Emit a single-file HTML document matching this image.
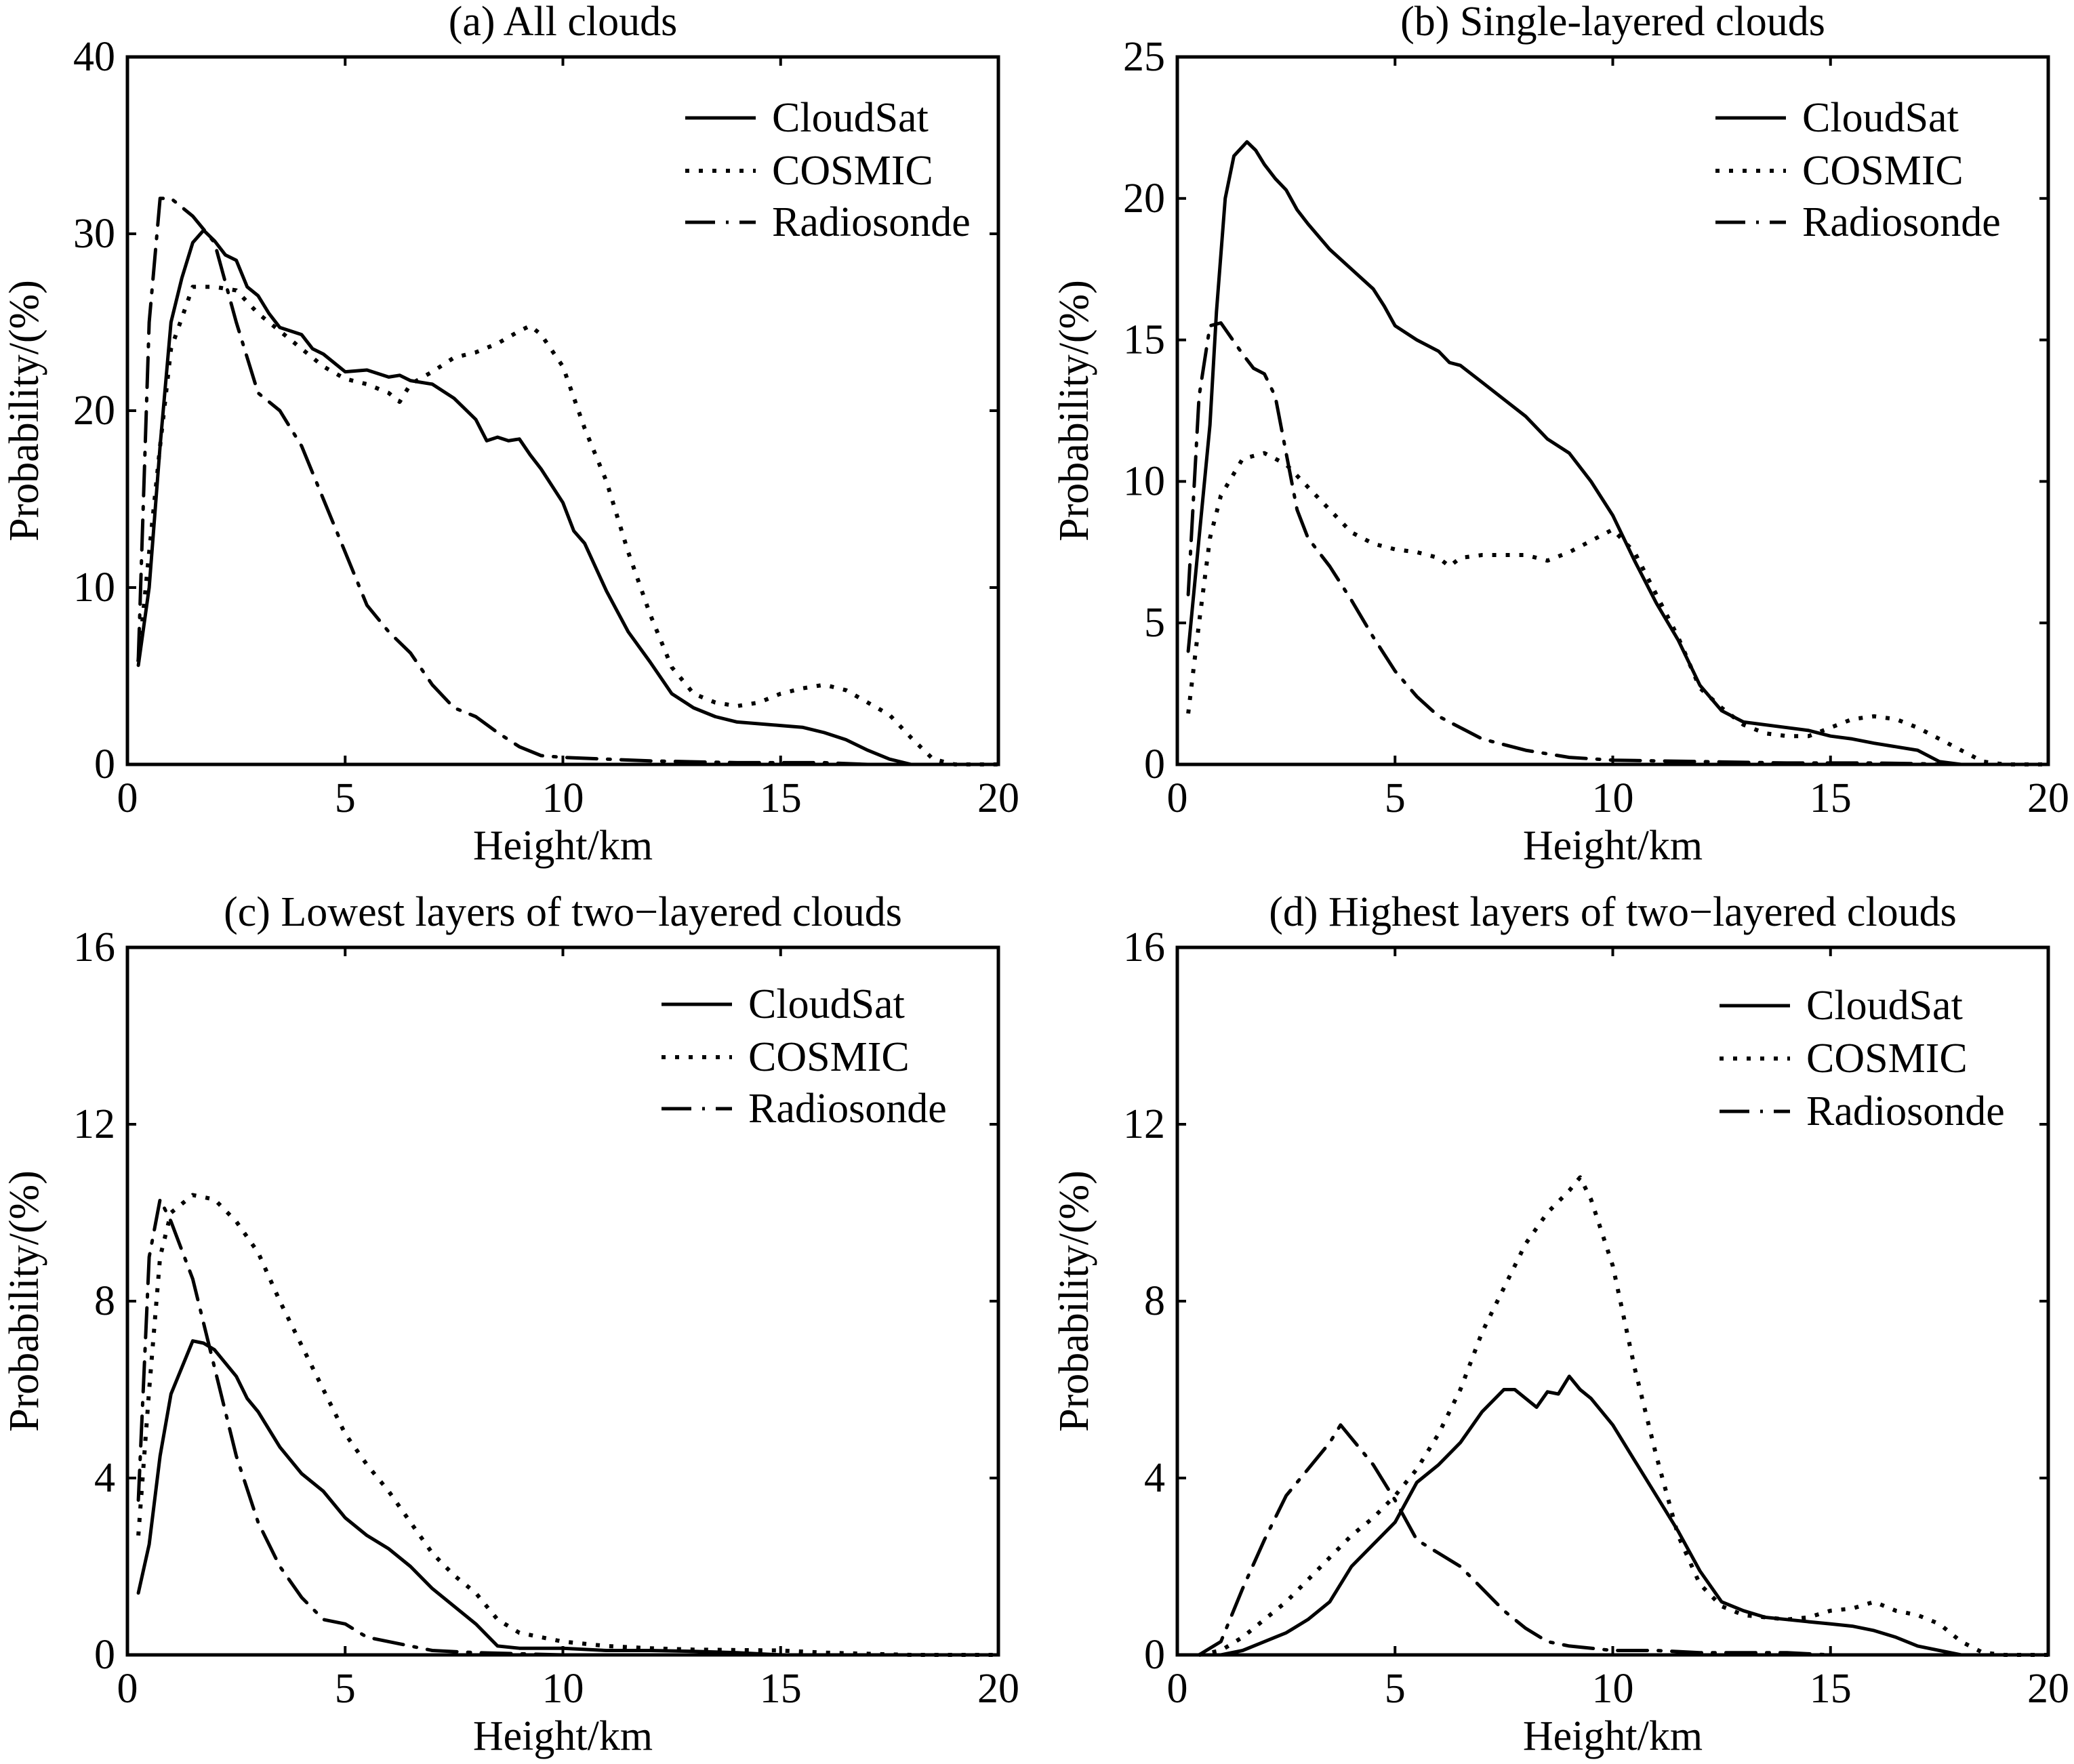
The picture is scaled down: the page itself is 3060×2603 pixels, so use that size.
<!DOCTYPE html>
<html><head><meta charset="utf-8"><style>
html,body{margin:0;padding:0;background:#fff}
svg{display:block}
text{font-family:"Liberation Serif",serif;fill:#000}
</style></head><body>
<svg id="fig" width="3060" height="2603" viewBox="0 0 3060 2603" xmlns="http://www.w3.org/2000/svg"></svg>
<script>
const xTicks=[0,5,10,15,20];
const titles=["(a) All clouds","(b) Single-layered clouds","(c) Lowest layers of two\u2212layered clouds","(d) Highest layers of two\u2212layered clouds"];
const yMax=[40,25,16,16];
const yTickSets=[[0,10,20,30,40],[0,5,10,15,20,25],[0,4,8,12,16],[0,4,8,12,16]];
const seriesNames=["CloudSat","COSMIC","Radiosonde"];
const aCloudSat=[[0.25,5.6],[0.5,10],[0.75,18],[1,25],[1.25,27.5],[1.5,29.5],[1.75,30.2],[2,29.6],[2.25,28.8],[2.5,28.5],[2.75,27],[3,26.5],[3.25,25.5],[3.5,24.7],[4,24.3],[4.25,23.5],[4.5,23.2],[5,22.2],[5.5,22.3],[6,21.9],[6.25,22],[6.5,21.7],[7,21.5],[7.5,20.7],[8,19.5],[8.25,18.3],[8.5,18.5],[8.75,18.3],[9,18.4],[9.25,17.5],[9.5,16.7],[10,14.8],[10.25,13.2],[10.5,12.5],[11,9.8],[11.5,7.5],[12,5.8],[12.5,4],[13,3.2],[13.5,2.7],[14,2.4],[15,2.2],[15.5,2.1],[16,1.8],[16.5,1.4],[17,0.8],[17.5,0.3],[18,0],[20,0]];
const aCOSMIC=[[0.25,5.8],[0.5,12],[0.75,18],[1,23.5],[1.5,27],[2,27],[2.5,26.8],[3,25.5],[3.5,24.5],[4,23.5],[4.5,22.5],[5,21.8],[5.5,21.5],[6,21],[6.25,20.5],[6.5,21.5],[7,22.2],[7.5,23],[8,23.3],[8.5,23.8],[9,24.5],[9.25,24.8],[9.5,24.3],[10,22.5],[10.5,19],[11,16],[11.5,12],[12,8.5],[12.5,5.5],[13,4],[13.5,3.5],[14,3.3],[14.5,3.5],[15,4],[15.5,4.3],[16,4.5],[16.5,4.2],[17,3.5],[17.5,2.8],[18,1.5],[18.5,0.3],[19,0],[20,0]];
const aRadiosonde=[[0.25,6],[0.5,25],[0.75,32],[1,32],[1.5,31],[2,29.5],[2.5,25],[3,21],[3.5,20],[4,18],[4.5,15],[5,12],[5.5,9],[6,7.5],[6.5,6.3],[7,4.5],[7.5,3.2],[8,2.7],[8.5,1.8],[9,1],[9.5,0.5],[10,0.4],[11,0.3],[12,0.2],[14,0.1],[16,0.1],[17,0],[20,0]];
const bCloudSat=[[0.25,4],[0.5,8],[0.75,12],[0.9,16],[1.1,20],[1.3,21.5],[1.6,22],[1.8,21.7],[2,21.2],[2.25,20.7],[2.5,20.3],[2.75,19.6],[3,19.1],[3.5,18.2],[4,17.5],[4.5,16.8],[4.75,16.2],[5,15.5],[5.5,15],[6,14.6],[6.25,14.2],[6.5,14.1],[7,13.5],[7.5,12.9],[8,12.3],[8.5,11.5],[9,11],[9.5,10],[10,8.8],[10.5,7.2],[11,5.7],[11.5,4.4],[12,2.8],[12.5,1.9],[13,1.5],[14,1.3],[14.5,1.2],[15,1],[15.5,0.9],[16,0.75],[17,0.5],[17.5,0.1],[18,0],[20,0]];
const bCOSMIC=[[0.25,1.8],[0.5,5],[0.75,8],[1,9.5],[1.5,10.8],[2,11],[2.5,10.6],[3,9.8],[3.5,9],[4,8.2],[4.5,7.8],[5,7.6],[5.5,7.5],[6,7.3],[6.25,7],[6.5,7.3],[7,7.4],[7.5,7.4],[8,7.4],[8.5,7.2],[9,7.5],[9.5,7.9],[10,8.3],[10.5,7.5],[11,6],[11.5,4.5],[12,2.7],[12.5,2],[13,1.4],[13.5,1.1],[14,1],[14.5,1],[15,1.3],[15.5,1.6],[16,1.7],[16.5,1.6],[17,1.3],[17.5,0.9],[18,0.5],[18.5,0.1],[19,0],[20,0]];
const bRadiosonde=[[0.25,6],[0.5,13],[0.75,15.5],[1,15.6],[1.5,14.5],[1.75,14],[2,13.8],[2.25,13],[2.5,11],[2.75,9],[3,8],[3.5,7],[4,5.8],[4.5,4.5],[5,3.3],[5.5,2.4],[6,1.7],[6.5,1.3],[7,0.9],[8,0.5],[9,0.25],[10,0.15],[12,0.1],[14,0.05],[16,0.05],[18,0],[20,0]];
const cCloudSat=[[0.25,1.4],[0.5,2.5],[0.75,4.5],[1,5.9],[1.5,7.1],[1.75,7.05],[2,6.9],[2.5,6.3],[2.75,5.8],[3,5.5],[3.5,4.7],[4,4.1],[4.5,3.7],[5,3.1],[5.5,2.7],[6,2.4],[6.5,2],[7,1.5],[7.5,1.1],[8,0.7],[8.5,0.2],[9,0.15],[10,0.15],[11,0.1],[12,0.1],[13,0.08],[14,0.05],[15,0],[20,0]];
const cCOSMIC=[[0.25,2.7],[0.5,6],[0.75,9],[1,10],[1.5,10.4],[2,10.3],[2.5,9.8],[3,9.1],[3.5,8],[4,7],[4.5,6],[5,5],[5.5,4.3],[6,3.7],[6.5,3],[7,2.3],[7.5,1.8],[8,1.4],[8.5,0.8],[9,0.5],[9.5,0.4],[10,0.3],[11,0.2],[12,0.15],[13,0.12],[15,0.1],[16,0.05],[18,0],[20,0]];
const cRadiosonde=[[0.25,3.5],[0.5,9],[0.75,10.3],[1,9.8],[1.5,8.5],[2,6.5],[2.5,4.5],[3,3],[3.5,2],[4,1.3],[4.5,0.8],[5,0.7],[5.5,0.4],[6,0.3],[7,0.1],[8,0.05],[10,0],[20,0]];
const dCloudSat=[[0.5,0],[1,0],[1.5,0.1],[2,0.3],[2.5,0.5],[3,0.8],[3.5,1.2],[4,2],[4.5,2.5],[5,3],[5.5,3.9],[6,4.3],[6.5,4.8],[7,5.5],[7.5,6],[7.75,6],[8,5.8],[8.25,5.6],[8.5,5.95],[8.75,5.9],[9,6.3],[9.25,6],[9.5,5.8],[10,5.2],[10.5,4.4],[11,3.6],[11.5,2.8],[12,1.9],[12.5,1.2],[13,1],[13.5,0.85],[14,0.8],[14.5,0.75],[15,0.7],[15.5,0.65],[16,0.55],[16.5,0.4],[17,0.2],[17.5,0.1],[18,0],[20,0]];
const dCOSMIC=[[0.5,0],[1,0.1],[1.5,0.4],[2,0.8],[2.5,1.2],[3,1.7],[3.5,2.2],[4,2.7],[4.5,3.1],[5,3.6],[5.5,4.2],[6,5],[6.5,6],[7,7.3],[7.5,8.3],[8,9.3],[8.5,10],[9,10.5],[9.25,10.8],[9.5,10.3],[10,8.8],[10.5,6.5],[11,4.5],[11.5,2.7],[12,1.6],[12.5,1.1],[13,0.9],[13.5,0.85],[14,0.8],[14.5,0.85],[15,1],[15.5,1.05],[16,1.2],[16.5,1],[17,0.9],[17.5,0.7],[18,0.3],[18.5,0.05],[19,0],[20,0]];
const dRadiosonde=[[0.5,0],[1,0.3],[1.5,1.5],[2,2.6],[2.5,3.6],[3,4.2],[3.5,4.8],[3.75,5.2],[4,4.9],[4.5,4.3],[5,3.5],[5.5,2.6],[6,2.3],[6.5,2],[7,1.5],[7.5,1],[8,0.6],[8.5,0.3],[9,0.2],[10,0.1],[11,0.1],[12,0.05],[14,0.05],[15,0],[20,0]];
const panelSeries=[[aCloudSat,aCOSMIC,aRadiosonde],[bCloudSat,bCOSMIC,bRadiosonde],[cCloudSat,cCOSMIC,cRadiosonde],[dCloudSat,dCOSMIC,dRadiosonde]];

const NS="http://www.w3.org/2000/svg";
const svg=document.getElementById('fig');
function mk(tag,attrs,parent){const e=document.createElementNS(NS,tag);for(const k in attrs)e.setAttribute(k,attrs[k]);(parent||svg).appendChild(e);return e;}
const boxes=[{x:188,y:84},{x:1737,y:84},{x:188,y:1398},{x:1737,y:1398}];
const W=1285,H=1044;
const legendY=[[174,252,328],[174,252,328],[1482,1560,1636],[1484,1562,1640]];
const legendX=[1011,2531,976,2537];
const dashes=["none","6 14","44 16 4 16"];
const widths=[5,6,5];
const seriesKeys=["cloudsat","cosmic","radiosonde"];
const FS=62;
boxes.forEach((b,i)=>{
  const g=mk('g',{});
  
  
  const xs=v=>b.x+v/20*W;
  const ys=v=>b.y+H-v/yMax[i]*H;
  panelSeries[i].forEach((s,k)=>{
    const p=mk('polyline',{points:s.map(d=>xs(d[0]).toFixed(1)+','+ys(d[1]).toFixed(1)).join(' '),fill:'none',stroke:'#000','stroke-width':widths[k],'stroke-dasharray':dashes[k],'stroke-linejoin':'round','stroke-linecap':k==1?'butt':'round'},g);
    
    
  });
  const r=mk('rect',{x:b.x,y:b.y,width:W,height:H,fill:'none',stroke:'#000','stroke-width':5},g);
  
  
  xTicks.forEach(t=>{
    const x=xs(t);
    mk('line',{x1:x,y1:b.y+H,x2:x,y2:b.y+H-13,stroke:'#000','stroke-width':4},g);
    mk('line',{x1:x,y1:b.y,x2:x,y2:b.y+13,stroke:'#000','stroke-width':4},g);
    const tx=mk('text',{x:x,y:b.y+H+70,'font-size':FS,'text-anchor':'middle'},g);
    tx.textContent=t;
    
    
  });
  yTickSets[i].forEach(t=>{
    const y=ys(t);
    mk('line',{x1:b.x,y1:y,x2:b.x+13,y2:y,stroke:'#000','stroke-width':4},g);
    mk('line',{x1:b.x+W,y1:y,x2:b.x+W-13,y2:y,stroke:'#000','stroke-width':4},g);
    const tx=mk('text',{x:b.x-18,y:y+20,'font-size':FS,'text-anchor':'end'},g);
    tx.textContent=t;
    
    
  });
  const t=mk('text',{x:b.x+W/2,y:b.y-32,'font-size':FS,'text-anchor':'middle'},g);
  t.textContent=titles[i];
  
  
  const xl=mk('text',{x:b.x+W/2,y:b.y+H+140,'font-size':FS,'text-anchor':'middle'},g);
  xl.textContent='Height/km';
  
  
  const yx=b.x-132, yy=b.y+H/2;
  const yl=mk('text',{x:yx,y:yy,'font-size':FS,'text-anchor':'middle',transform:'rotate(-90 '+yx+' '+yy+')'},g);
  yl.textContent='Probability/(%)';
  
  
  seriesNames.forEach((n,k)=>{
    const ly=legendY[i][k], lx=legendX[i];
    const le=mk('g',{},g);
    
    
    mk('line',{x1:lx,y1:ly,x2:lx+104,y2:ly,stroke:'#000','stroke-width':widths[k],'stroke-dasharray':dashes[k]},le);
    const lt=mk('text',{x:lx+128,y:ly+20,'font-size':FS},le);
    lt.textContent=n;
  });
});
</script>
</body></html>
